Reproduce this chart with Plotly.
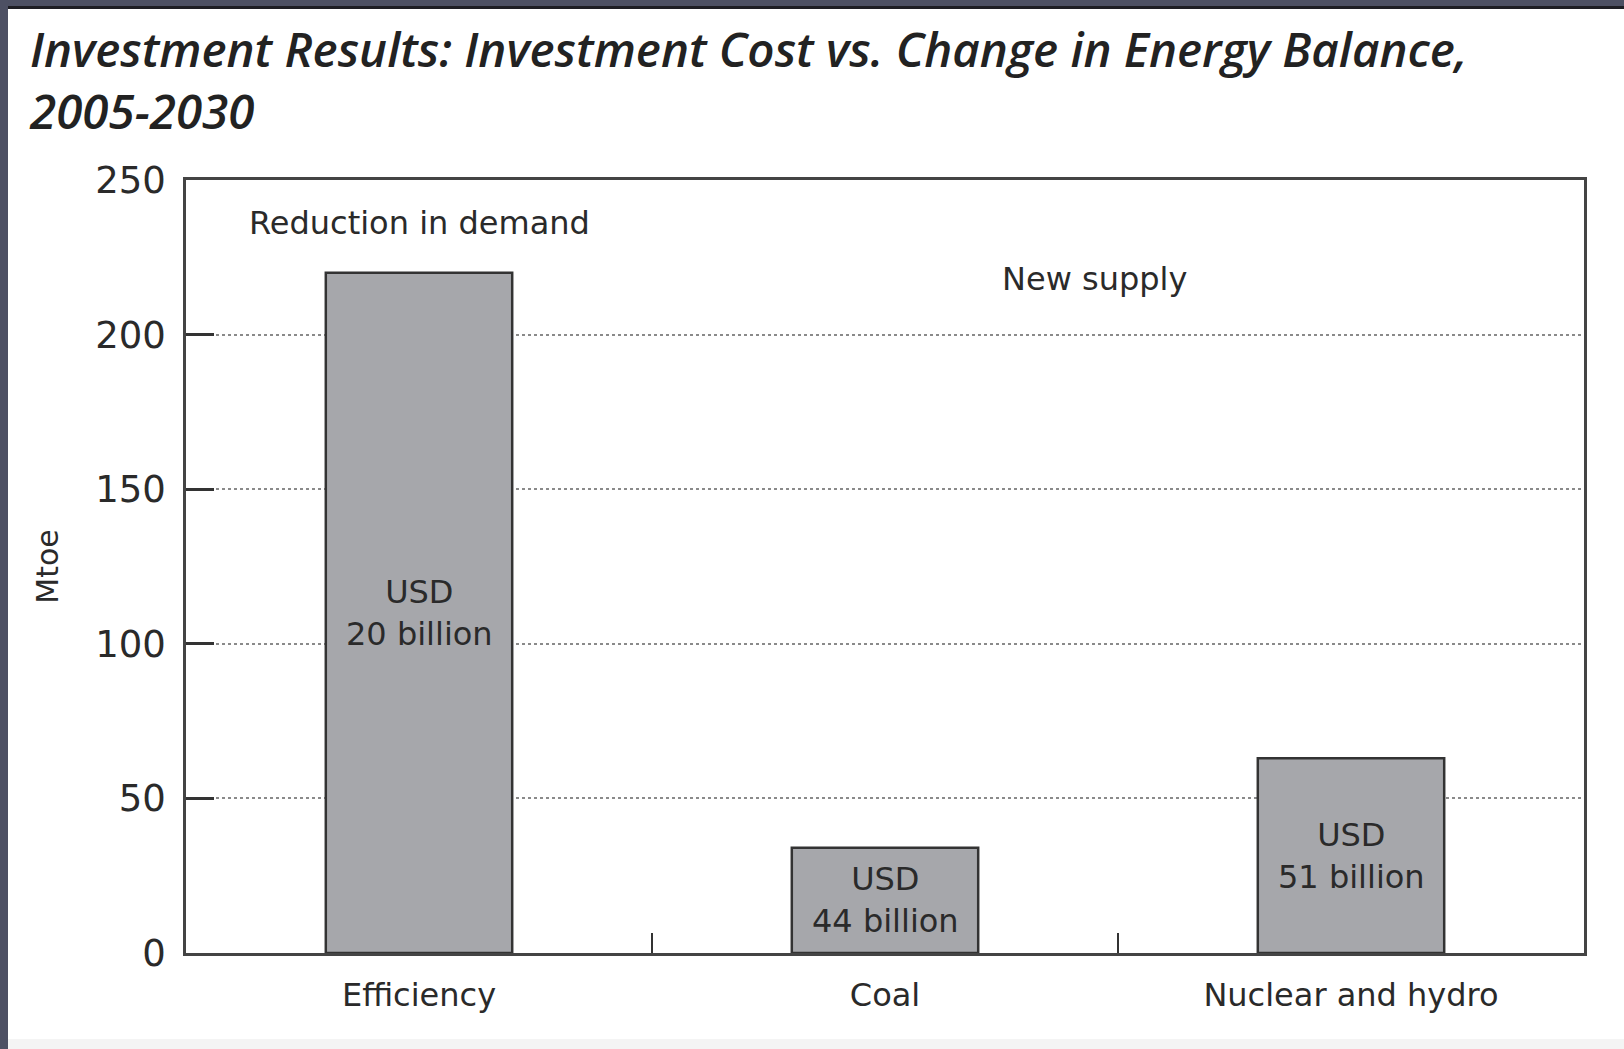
import plotly.graph_objects as go

# ---- data ----
categories = ["Efficiency", "Coal", "Nuclear and hydro"]
values_mtoe = [220, 34, 63]
cost_labels = ["USD<br>20 billion", "USD<br>44 billion", "USD<br>51 billion"]
y_ticks = [0, 50, 100, 150, 200, 250]
group_labels = ["Reduction in demand", "New supply"]

W, H = 1624, 1049
L, R, T, B = 186, 40, 180, 96
plot_w = W - L - R
plot_h = H - T - B

def px_x(px):
    return (px - L) / plot_w

def px_y(py):
    return (H - B - py) / plot_h

FONT = "DejaVu Sans"
TXT = "#2a2a2a"

fig = go.Figure()
fig.add_trace(go.Bar(
    x=categories, y=values_mtoe,
    marker=dict(color="#a6a7ab", line=dict(color="#333333", width=2.5)),
    width=0.4, hoverinfo="x+y",
))

# cost labels centered inside bars
for c, v, t in zip(categories, values_mtoe, cost_labels):
    fig.add_annotation(x=c, y=v / 2, text=t, showarrow=False,
                       font=dict(family=FONT, size=32, color=TXT),
                       xanchor="center", yanchor="middle", align="center")

# group labels
fig.add_annotation(x=0, y=236, text=group_labels[0], showarrow=False,
                   font=dict(family=FONT, size=32, color=TXT), xanchor="center", yanchor="middle")
fig.add_annotation(x=1.45, y=218, text=group_labels[1], showarrow=False,
                   font=dict(family=FONT, size=32, color=TXT), xanchor="center", yanchor="middle")

# title
fig.add_annotation(
    xref="paper", yref="paper", x=px_x(27), y=px_y(14),
    xanchor="left", yanchor="top", align="left", showarrow=False,
    text="Investment Results: Investment Cost vs. Change in Energy Balance,<br>2005-2030",
    font=dict(family="Open Sans", size=47.5, color="#222222", style="italic", weight=600),
)

fig.update_layout(
    width=W, height=H,
    margin=dict(l=L, r=R, t=T, b=B),
    paper_bgcolor="white", plot_bgcolor="white",
    showlegend=False,
    xaxis=dict(
        type="category", range=[-0.5, 2.5],
        showline=True, linecolor="#444444", linewidth=2.5, mirror=True,
        ticks="inside", tickson="boundaries", ticklen=20, tickwidth=2, tickcolor="#333333",
        showgrid=False,
        tickfont=dict(family=FONT, size=32, color=TXT),
        ticklabelstandoff=12,
    ),
    yaxis=dict(
        range=[0, 250], tickvals=y_ticks,
        showline=True, linecolor="#444444", linewidth=2.5, mirror=True,
        ticks="inside", ticklen=28, tickwidth=2.5, tickcolor="#333333",
        showgrid=True, gridcolor="#8a8a8a", gridwidth=1.6, griddash="dot",
        zeroline=False,
        tickfont=dict(family=FONT, size=37, color=TXT),
        ticklabelstandoff=10,
        title=dict(text="Mtoe", font=dict(family=FONT, size=30, color=TXT), standoff=28),
    ),
)

# page frame decorations (dark strips on top and left, light strip at bottom)
fig.add_shape(type="rect", xref="paper", yref="paper",
              x0=px_x(0), x1=px_x(8), y0=px_y(H), y1=px_y(0),
              fillcolor="#4d5063", line_width=0, layer="above")
fig.add_shape(type="rect", xref="paper", yref="paper",
              x0=px_x(0), x1=px_x(W), y0=px_y(6), y1=px_y(0),
              fillcolor="#4d5063", line_width=0, layer="above")
fig.add_shape(type="rect", xref="paper", yref="paper",
              x0=px_x(8), x1=px_x(W), y0=px_y(9), y1=px_y(6),
              fillcolor="#1e1e24", line_width=0, layer="above")
fig.add_shape(type="rect", xref="paper", yref="paper",
              x0=px_x(8), x1=px_x(W), y0=px_y(H), y1=px_y(1039),
              fillcolor="#f4f4f4", line_width=0, layer="above")

fig.write_html(
    "out.html",
    config={"displayModeBar": False},
    post_script="document.body.style.margin='0px';document.body.style.padding='0px';document.body.style.overflow='hidden';",
)
